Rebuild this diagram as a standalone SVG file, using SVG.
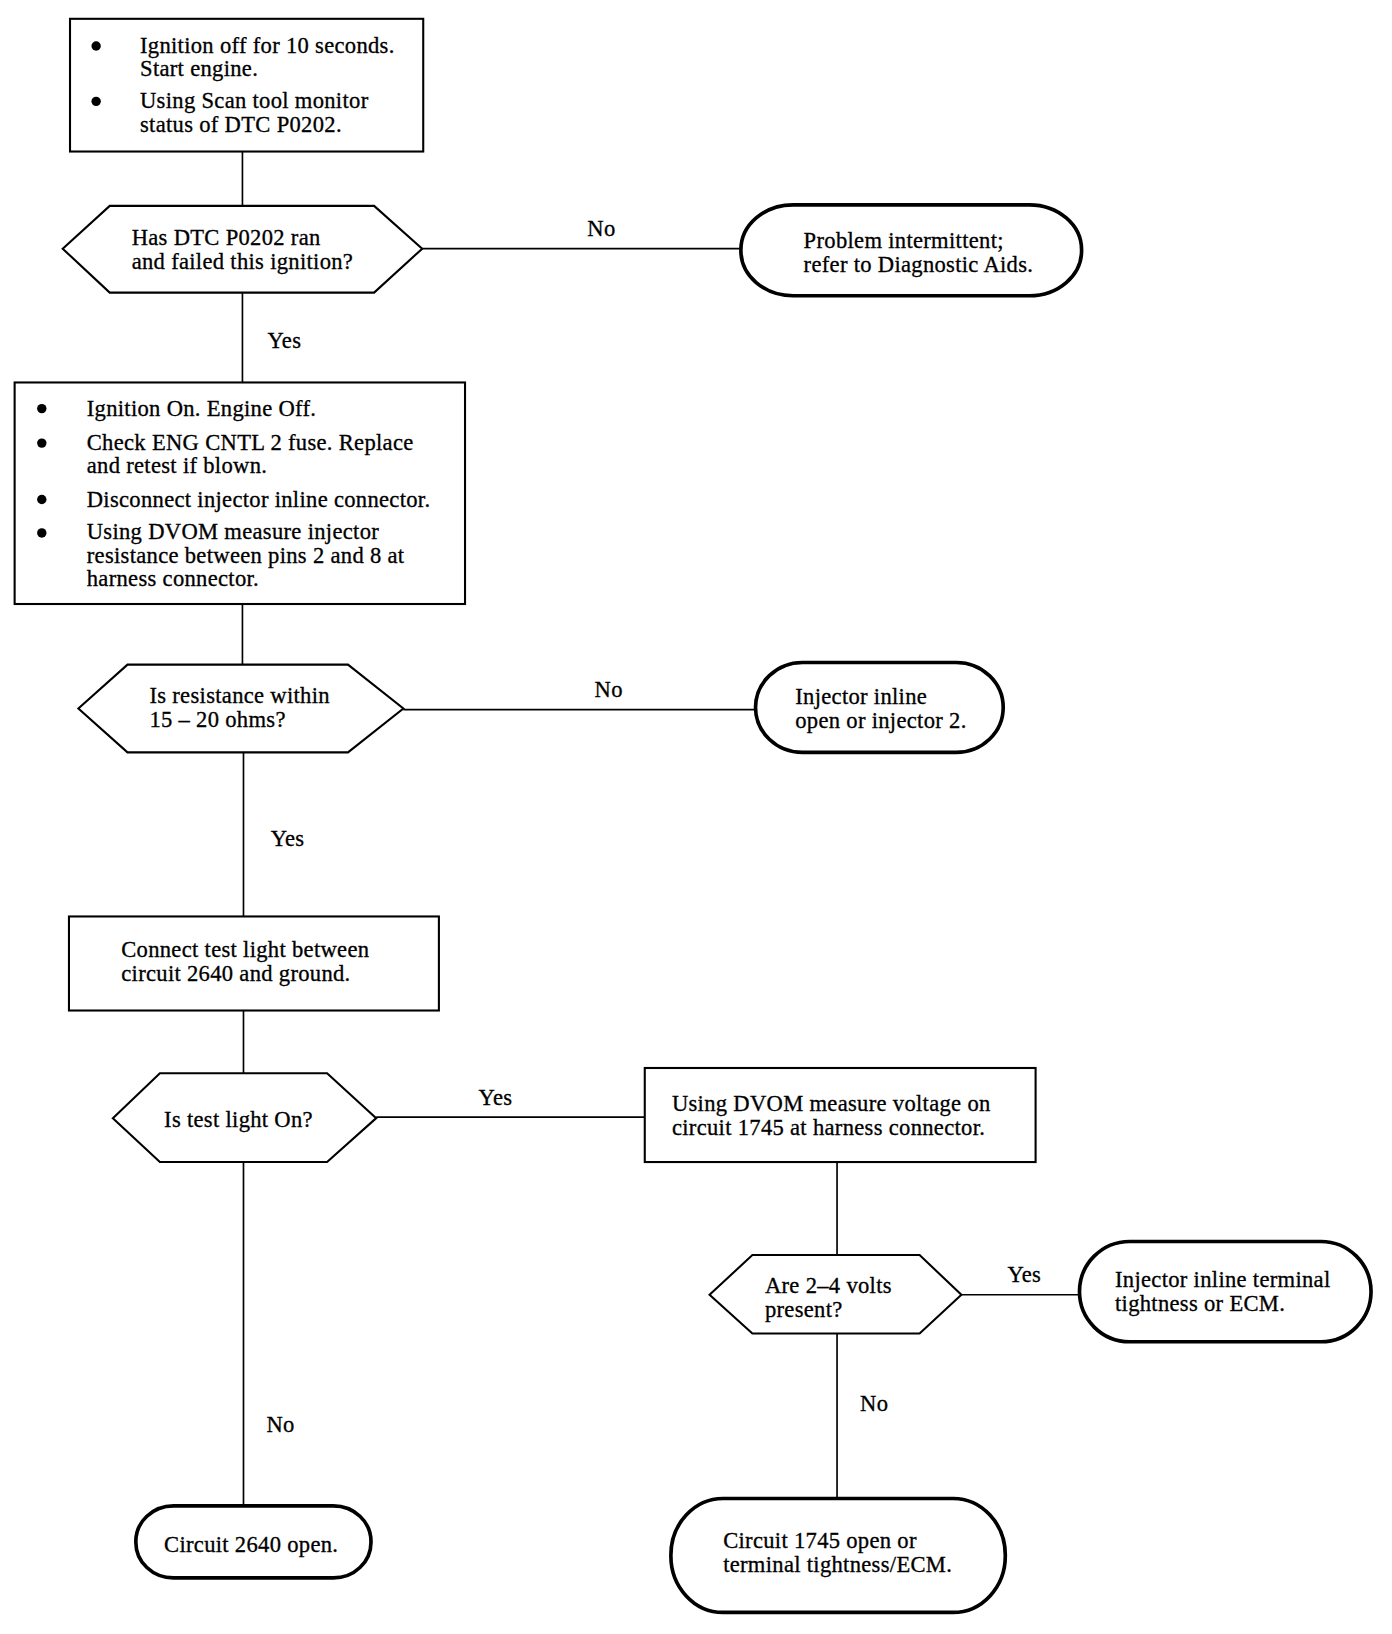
<svg xmlns="http://www.w3.org/2000/svg" width="1392" height="1634" viewBox="0 0 1392 1634">
<style>
text{font-family:"Liberation Serif","Times New Roman",serif;font-size:21.6px;letter-spacing:0.3px;fill:#000;stroke:#000;stroke-width:0.3}
.box{fill:#fff;stroke:#000;stroke-width:2}
.dec{fill:#fff;stroke:#000;stroke-width:2}
.term{fill:#fff;stroke:#000;stroke-width:3.5}
.ln{fill:none;stroke:#000;stroke-width:1.6}
.dot{fill:#000}
</style>
<rect width="1392" height="1634" fill="#fff"/>
<g transform="scale(1.045)">
<g id="connectors">
<line class="ln" x1="232" y1="145" x2="232" y2="197"/>
<line class="ln" x1="404" y1="238" x2="709" y2="238"/>
<text x="562" y="226">No</text>
<line class="ln" x1="232" y1="280" x2="232" y2="366"/>
<text x="256" y="333">Yes</text>
<line class="ln" x1="232" y1="578" x2="232" y2="636"/>
<line class="ln" x1="386" y1="679" x2="723" y2="679"/>
<text x="569" y="667">No</text>
<line class="ln" x1="233" y1="720" x2="233" y2="877"/>
<text x="259" y="810">Yes</text>
<line class="ln" x1="233" y1="967" x2="233" y2="1027"/>
<line class="ln" x1="360" y1="1069" x2="617" y2="1069"/>
<text x="458" y="1057">Yes</text>
<line class="ln" x1="801" y1="1112" x2="801" y2="1201"/>
<line class="ln" x1="920" y1="1239" x2="1033" y2="1239"/>
<text x="964" y="1227">Yes</text>
<line class="ln" x1="233" y1="1112" x2="233" y2="1441"/>
<text x="255" y="1370">No</text>
<line class="ln" x1="801" y1="1276" x2="801" y2="1434"/>
<text x="823" y="1350">No</text>
</g>
<g id="box1">
<rect class="box" x="67" y="18" width="338" height="127"/>
<circle class="dot" cx="92" cy="44" r="4.5"/>
<circle class="dot" cx="92" cy="97" r="4.5"/>
<text x="134" y="50.5">Ignition off for 10 seconds.</text>
<text x="134" y="73">Start engine.</text>
<text x="134" y="103.5">Using Scan tool monitor</text>
<text x="134" y="126">status of DTC P0202.</text>
</g>
<g id="dec1">
<polygon class="dec" points="60,238 105,197 358,197 404,238 358,280 105,280"/>
<text x="126" y="234">Has DTC P0202 ran</text>
<text x="126" y="257">and failed this ignition?</text>
</g>
<g id="term1">
<rect class="term" x="709" y="196" width="326" height="87" rx="50" ry="43"/>
<text x="769" y="237">Problem intermittent;</text>
<text x="769" y="260">refer to Diagnostic Aids.</text>
</g>
<g id="box2">
<rect class="box" x="14" y="366" width="431" height="212"/>
<circle class="dot" cx="40" cy="391" r="4.5"/>
<circle class="dot" cx="40" cy="424" r="4.5"/>
<circle class="dot" cx="40" cy="478" r="4.5"/>
<circle class="dot" cx="40" cy="510" r="4.5"/>
<text x="83" y="398">Ignition On. Engine Off.</text>
<text x="83" y="430.5">Check ENG CNTL 2 fuse. Replace</text>
<text x="83" y="453">and retest if blown.</text>
<text x="83" y="485">Disconnect injector inline connector.</text>
<text x="83" y="516">Using DVOM measure injector</text>
<text x="83" y="538.5">resistance between pins 2 and 8 at</text>
<text x="83" y="561">harness connector.</text>
</g>
<g id="dec2">
<polygon class="dec" points="75,678 122,636 333,636 386,678 333,720 122,720"/>
<text x="143" y="673">Is resistance within</text>
<text x="143" y="696">15 – 20 ohms?</text>
</g>
<g id="term2">
<rect class="term" x="723" y="634" width="237" height="86" rx="45" ry="43"/>
<text x="761" y="673.5">Injector inline</text>
<text x="761" y="696.5">open or injector 2.</text>
</g>
<g id="box3">
<rect class="box" x="66" y="877" width="354" height="90"/>
<text x="116" y="916">Connect test light between</text>
<text x="116" y="939">circuit 2640 and ground.</text>
</g>
<g id="dec3">
<polygon class="dec" points="108,1070 153,1027 313,1027 360,1070 313,1112 153,1112"/>
<text x="157" y="1078">Is test light On?</text>
</g>
<g id="box4">
<rect class="box" x="617" y="1022" width="374" height="90"/>
<text x="643" y="1063">Using DVOM measure voltage on</text>
<text x="643" y="1086">circuit 1745 at harness connector.</text>
</g>
<g id="dec4">
<polygon class="dec" points="679,1239 720,1201 880,1201 920,1239 880,1276 720,1276"/>
<text x="732" y="1237">Are 2–4 volts</text>
<text x="732" y="1260">present?</text>
</g>
<g id="term3">
<rect class="term" x="1033" y="1188" width="279" height="96" rx="48" ry="48"/>
<text x="1067" y="1232">Injector inline terminal</text>
<text x="1067" y="1255">tightness or ECM.</text>
</g>
<g id="term4">
<rect class="term" x="130" y="1441" width="225" height="69" rx="36" ry="34"/>
<text x="157" y="1485">Circuit 2640 open.</text>
</g>
<g id="term5">
<rect class="term" x="642" y="1434" width="320" height="109" rx="50" ry="54"/>
<text x="692" y="1481">Circuit 1745 open or</text>
<text x="692" y="1504">terminal tightness/ECM.</text>
</g>
</g>
</svg>
